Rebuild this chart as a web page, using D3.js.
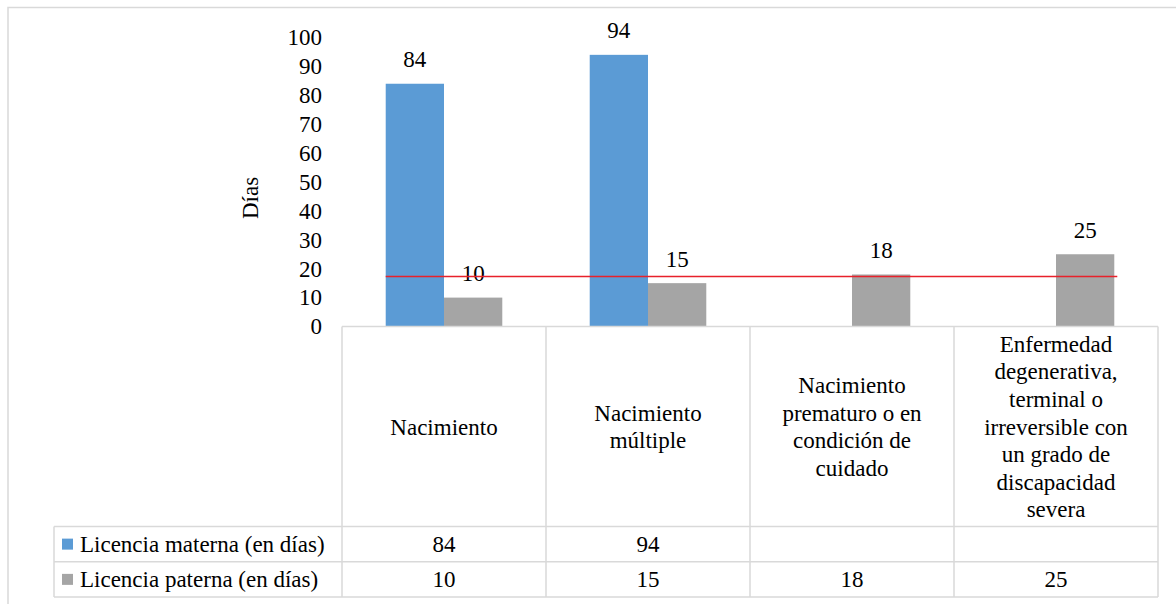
<!DOCTYPE html>
<html>
<head>
<meta charset="utf-8">
<script src="https://cdn.jsdelivr.net/npm/d3@7"></script>
<style>
  html, body { margin: 0; padding: 0; background: #fff; }
  svg { display: block; }
  svg text { font-family: "Liberation Serif", "Times New Roman", Tinos, "Nimbus Roman", "DejaVu Serif", serif !important; }
</style>
</head>
<body>
<svg id="chart" width="1176" height="604"></svg>
<script>
const categories = ["Nacimiento", "Nacimiento múltiple", "Nacimiento prematuro o en condición de cuidado", "Enfermedad degenerativa, terminal o irreversible con un grado de discapacidad severa"];
const categoryLines = [
  ["Nacimiento"],
  ["Nacimiento", "múltiple"],
  ["Nacimiento", "prematuro o en", "condición de", "cuidado"],
  ["Enfermedad", "degenerativa,", "terminal o", "irreversible con", "un grado de", "discapacidad", "severa"]
];
const seriesNames = ["Licencia materna (en días)", "Licencia paterna (en días)"];
const materna = [84, 94, null, null];
const paterna = [10, 15, 18, 25];
const yTicks = [0, 10, 20, 30, 40, 50, 60, 70, 80, 90, 100];
const referenceLine = 17.3;
const yTitle = "Días";

const colors = ["#5b9bd5", "#a5a5a5"];
const gridColor = "#d9d9d9";
const fontSize = 23;

const svg = d3.select("#chart");

// outer frame (cut by the window on the right and bottom)
svg.append("rect")
  .attr("x", 8).attr("y", 7.5)
  .attr("width", 1300).attr("height", 700)
  .attr("fill", "#fff").attr("stroke", gridColor).attr("stroke-width", 1.5);

const x = d3.scaleBand().domain(categories).range([342, 1158]).padding(0);
const y = d3.scaleLinear().domain([0, 100]).range([326.5, 37.5]);

const bw = x.bandwidth();
const barW = bw / 3.5;
const offset = barW * 0.75;
const xs = d3.scaleBand().domain([0, 1]).range([offset, offset + 2 * barW]).padding(0);

// y axis labels
const yAxis = d3.axisLeft(y).tickValues(yTicks).tickSize(0).tickPadding(0);
const gy = svg.append("g").attr("transform", "translate(322,0)").call(yAxis);
gy.select(".domain").remove();
gy.attr("font-family", null).attr("font-size", null);
gy.selectAll("text")
  .attr("font-size", fontSize)
  .attr("fill", "#000");

// y title
svg.append("text")
  .attr("transform", "translate(250,198) rotate(-90)")
  .attr("text-anchor", "middle")
  .attr("dy", "0.35em")
  .attr("font-size", fontSize)
  .attr("fill", "#000")
  .text(yTitle);

// bars
const series = [materna, paterna];
series.forEach((vals, si) => {
  const g = svg.append("g");
  const data = vals.map((v, i) => ({ cat: categories[i], v })).filter(d => d.v != null);
  g.selectAll("rect").data(data).enter().append("rect")
    .attr("x", d => x(d.cat) + xs(si))
    .attr("y", d => y(d.v))
    .attr("width", xs.bandwidth())
    .attr("height", d => y(0) - y(d.v))
    .attr("fill", colors[si]);
  g.selectAll("text").data(data).enter().append("text")
    .attr("x", d => x(d.cat) + xs(si) + xs.bandwidth() / 2)
    .attr("y", d => y(d.v) - 16.5)
    .attr("text-anchor", "middle")
    .attr("font-size", fontSize)
    .attr("fill", "#000")
    .text(d => d.v);
});

// reference line
svg.append("line")
  .attr("x1", x(categories[0]) + xs(0))
  .attr("x2", x(categories[3]) + xs(1) + xs.bandwidth() + 3)
  .attr("y1", y(referenceLine)).attr("y2", y(referenceLine))
  .attr("stroke", "#e8212b").attr("stroke-width", 1.5);

// data table
const headerTop = y(0), headerBottom = 526.5, rowH = 35.25;
const tableLeft = 54, tableRight = x.range()[1];
const tg = svg.append("g").attr("stroke", gridColor).attr("stroke-width", 1.5).attr("fill", "none");
tg.append("line").attr("x1", x.range()[0]).attr("x2", tableRight).attr("y1", headerTop).attr("y2", headerTop);
[0, 1, 2].forEach(k => {
  const yy = headerBottom + k * rowH;
  tg.append("line").attr("x1", tableLeft).attr("x2", tableRight).attr("y1", yy).attr("y2", yy);
});
categories.concat([null]).forEach((c, i) => {
  const xx = c ? x(c) : tableRight;
  tg.append("line").attr("x1", xx).attr("x2", xx).attr("y1", headerTop).attr("y2", headerBottom + 2 * rowH);
});
tg.append("line").attr("x1", tableLeft).attr("x2", tableLeft).attr("y1", headerBottom).attr("y2", headerBottom + 2 * rowH);

// category labels
const lineH = 27.6;
const headerMid = (headerTop + headerBottom) / 2;
categoryLines.forEach((lines, i) => {
  const cx = x(categories[i]) + bw / 2;
  const t = svg.append("text")
    .attr("text-anchor", "middle")
    .attr("font-size", fontSize)
    .attr("fill", "#000");
  lines.forEach((ln, j) => {
    t.append("tspan")
      .attr("x", cx)
      .attr("y", headerMid + (j - (lines.length - 1) / 2) * lineH)
      .attr("dy", "0.35em")
      .text(ln);
  });
});

// table rows
series.forEach((vals, si) => {
  const rowMid = headerBottom + si * rowH + rowH / 2;
  svg.append("rect")
    .attr("x", 62).attr("y", rowMid - 5.5)
    .attr("width", 11).attr("height", 11)
    .attr("fill", colors[si]);
  svg.append("text")
    .attr("x", 80).attr("y", rowMid).attr("dy", "0.35em")
    .attr("font-size", fontSize).attr("fill", "#000")
    .text(seriesNames[si]);
  vals.forEach((v, i) => {
    if (v == null) return;
    svg.append("text")
      .attr("x", x(categories[i]) + bw / 2).attr("y", rowMid).attr("dy", "0.35em")
      .attr("text-anchor", "middle")
      .attr("font-size", fontSize).attr("fill", "#000")
      .text(v);
  });
});
</script>
</body>
</html>
